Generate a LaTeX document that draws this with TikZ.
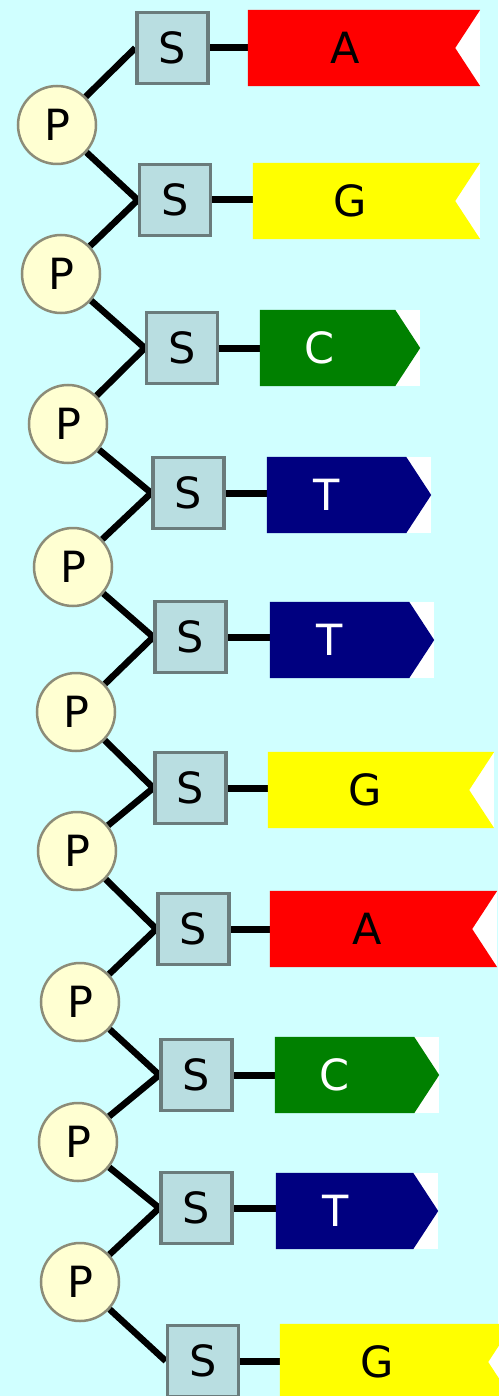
\documentclass[tikz,border=0pt]{standalone}
\usepackage{fontspec}
\newfontfamily\lblfont{DejaVu Sans}
\pgfdeclarelayer{bg}
\pgfsetlayers{bg,main}
\definecolor{bgc}{HTML}{D0FFFF}
\definecolor{sfill}{HTML}{B9DEE1}
\definecolor{sedge}{HTML}{6A7C7C}
\definecolor{pfill}{HTML}{FFFFD2}
\definecolor{pedge}{HTML}{8C8C78}
\definecolor{fred}{HTML}{FF0000}
\definecolor{fyellow}{HTML}{FFFF00}
\definecolor{fgreen}{HTML}{008000}
\definecolor{fnavy}{HTML}{000080}
\tikzset{
  sbox/.style={draw=sedge, fill=sfill, line width=3.5pt, minimum width=71pt, minimum height=71pt, inner sep=0pt, font=\lblfont\fontsize{43}{48}\selectfont},
  pball/.style={circle, draw=pedge, fill=pfill, line width=2.5pt, minimum size=78pt, inner sep=0pt, font=\lblfont\fontsize{43}{48}\selectfont},
  flagbox/.style={rectangle, minimum height=76pt, inner sep=0pt},
  flagtext/.style={inner sep=0pt, font=\lblfont\fontsize{43}{48}\selectfont},
  bond/.style={black, line width=6.5pt},
  link/.style={black, line width=7pt}
}
\newcommand\flagnotch[7]{%
  \node[flagbox, minimum width={#3-#2}] (#1) at ({(#2+#3)/2},#4) {};
  \fill[white] (#1.north west) rectangle (#1.south east);
  \fill[#5] (#1.north west) -- (#1.north east) -- ([xshift=-25pt]#1.east) -- (#1.south east) -- (#1.south west) -- cycle;
  \node[flagtext, text=#6] at ([xshift=97pt]#1.west) {#7};
}
\newcommand\flagpoint[7]{%
  \node[flagbox, minimum width={#3-#2}] (#1) at ({(#2+#3)/2},#4) {};
  \fill[white] (#1.north west) rectangle (#1.south east);
  \fill[#5] (#1.north west) -- ([xshift=-25pt]#1.north east) -- (#1.east) -- ([xshift=-25pt]#1.south east) -- (#1.south west) -- cycle;
  \node[flagtext, text=#6] at ([xshift=60pt]#1.west) {#7};
}
\begin{document}
\begin{tikzpicture}[x=1pt, y=-1pt]
\useasboundingbox (0,0) rectangle (498,1396);
\begin{pgfonlayer}{bg}
  \fill[bgc] (0,0) rectangle (498,1396);
\end{pgfonlayer}
% sugar boxes
\node[sbox] (s1) at (172.5,48) {S};
\node[sbox] (s2) at (175,200) {S};
\node[sbox] (s3) at (182,348) {S};
\node[sbox] (s4) at (188.5,493) {S};
\node[sbox] (s5) at (190.5,637) {S};
\node[sbox] (s6) at (190.5,788) {S};
\node[sbox] (s7) at (193.5,929) {S};
\node[sbox] (s8) at (196.5,1075) {S};
\node[sbox] (s9) at (196.5,1208) {S};
\node[sbox] (s10) at (203,1361) {S};
% phosphates
\node[pball] (p1) at (57,125) {P};
\node[pball] (p2) at (61,274) {P};
\node[pball] (p3) at (68,424) {P};
\node[pball] (p4) at (73,567) {P};
\node[pball] (p5) at (76,712) {P};
\node[pball] (p6) at (77,851) {P};
\node[pball] (p7) at (80,1002) {P};
\node[pball] (p8) at (78,1142) {P};
\node[pball] (p9) at (80,1282) {P};
% bases
\flagnotch{f1}{248}{480}{48}{fred}{black}{A}
\flagnotch{f2}{253}{480}{201}{fyellow}{black}{G}
\flagpoint{f3}{260}{420}{348}{fgreen}{white}{C}
\flagpoint{f4}{267}{431}{495}{fnavy}{white}{T}
\flagpoint{f5}{270}{434}{640}{fnavy}{white}{T}
\flagnotch{f6}{268}{494}{790}{fyellow}{black}{G}
\flagnotch{f7}{270}{497}{929}{fred}{black}{A}
\flagpoint{f8}{275}{439}{1075}{fgreen}{white}{C}
\flagpoint{f9}{276}{438}{1211}{fnavy}{white}{T}
\flagnotch{f10}{280}{513}{1362}{fyellow}{black}{G}
% connectors
\begin{pgfonlayer}{bg}
  \foreach \i [evaluate=\i as \j using int(\i+1)] in {1,...,9} {
    \draw[bond] (p\i) -- (s\i.west);
    \draw[bond] (p\i) -- (s\j.west);
  }
  \foreach \i in {1,...,10} {
    \draw[link] (s\i.east) -- (s\i.east -| f\i.west);
  }
\end{pgfonlayer}
\end{tikzpicture}
\end{document}
